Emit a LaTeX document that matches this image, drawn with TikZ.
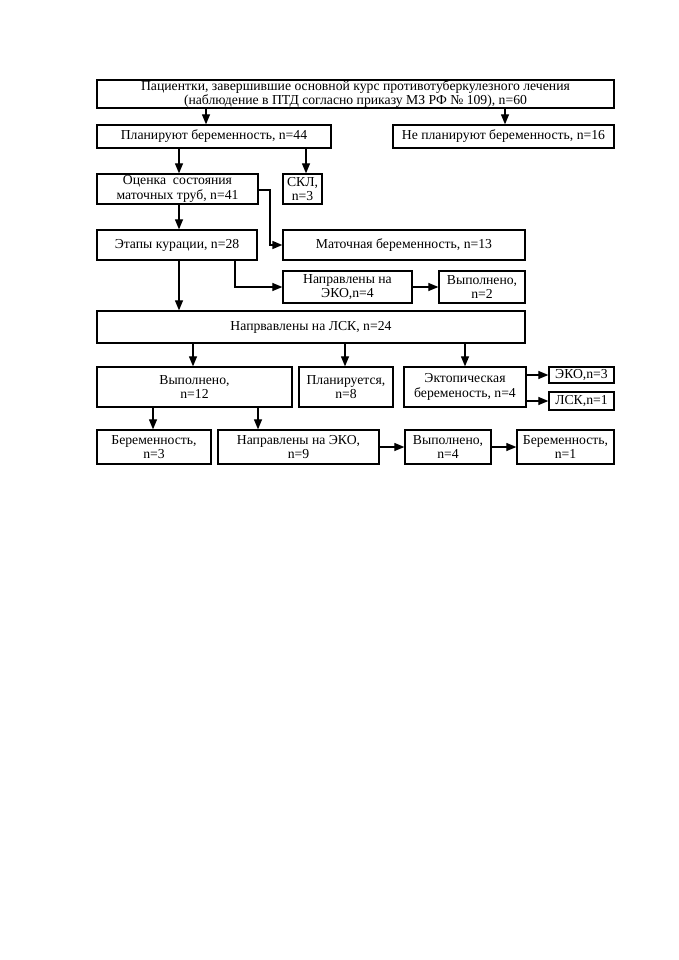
\documentclass[tikz,border=0pt]{standalone}
\usepackage{fontspec}
\setmainfont{Liberation Serif}
\usetikzlibrary{arrows.meta}
\begin{document}
\begin{tikzpicture}[x=1pt,y=-1pt,
  box/.style={draw,line width=1.3pt,inner sep=0pt,align=center,font=\fontsize{13.7}{14.2}\selectfont},
  arr/.style={line width=1.2pt,-{Triangle[length=10pt,width=8pt]}}]
\useasboundingbox (0,0) rectangle (678,960);
\node[box,minimum width=517pt,minimum height=28pt,font=\fontsize{13.7}{13.3}\selectfont] (top) at (355.5,94) {Пациентки, завершившие основной курс противотуберкулезного лечения\\(наблюдение в ПТД согласно приказу МЗ РФ № 109), n=60};
\node[box,minimum width=234pt,minimum height=23pt] (plan) at (214,136.5) {Планируют беременность, n=44};
\node[box,minimum width=221pt,minimum height=23pt] (noplan) at (503.5,136.5) {Не планируют беременность, n=16};
\node[box,minimum width=161pt,minimum height=30pt] (ocenka) at (177.5,189) {Оценка~~состояния\\маточных труб, n=41};
\node[box,minimum width=39pt,minimum height=30pt] (skl) at (302.5,189) {СКЛ,\\n=3};
\node[box,minimum width=160pt,minimum height=30pt] (etapy) at (177,245) {Этапы курации, n=28};
\node[box,minimum width=242pt,minimum height=30pt] (matoch) at (404,245) {Маточная беременность, n=13};
\node[box,minimum width=129pt,minimum height=32pt] (eko4) at (347.5,287) {Направлены на\\ЭКО,n=4};
\node[box,minimum width=86pt,minimum height=32pt] (vyp2) at (482,287) {Выполнено,\\n=2};
\node[box,minimum width=428pt,minimum height=32pt] (lsk) at (311,327) {Напрвавлены на ЛСК, n=24};
\node[box,minimum width=195pt,minimum height=40pt] (vyp12) at (194.5,387) {Выполнено,\\n=12};
\node[box,minimum width=94pt,minimum height=40pt] (planir) at (346,387) {Планируется,\\n=8};
\node[box,minimum width=122pt,minimum height=40pt] (ektop) at (465,387) {Эктопическая\\беременость, n=4};
\node[box,minimum width=65pt,minimum height=16pt] (eko3) at (581.5,375) {ЭКО,n=3};
\node[box,minimum width=65pt,minimum height=18pt] (lsk1) at (581.5,401) {ЛСК,n=1};
\node[box,minimum width=114pt,minimum height=34pt] (ber3) at (154,447) {Беременность,\\n=3};
\node[box,minimum width=161pt,minimum height=34pt] (eko9) at (298.5,447) {Направлены на ЭКО,\\n=9};
\node[box,minimum width=86pt,minimum height=34pt] (vyp4) at (448,447) {Выполнено,\\n=4};
\node[box,minimum width=97pt,minimum height=34pt] (ber1) at (565.5,447) {Беременность,\\n=1};
\coordinate (xa) at (206,0);
\coordinate (xb) at (505,0);
\coordinate (xc) at (179,0);
\coordinate (xd) at (306,0);
\coordinate (xe) at (235,0);
\coordinate (xf) at (193,0);
\coordinate (xg) at (345,0);
\coordinate (xh) at (465,0);
\coordinate (xi) at (153,0);
\coordinate (xj) at (258,0);
\coordinate (xk) at (270,0);
\coordinate (ya) at (0,190);
\draw[arr] (top.south -| xa) -- (plan.north -| xa);
\draw[arr] (top.south -| xb) -- (noplan.north -| xb);
\draw[arr] (plan.south -| xc) -- (ocenka.north -| xc);
\draw[arr] (plan.south -| xd) -- (skl.north -| xd);
\draw[arr] (ocenka.south -| xc) -- (etapy.north -| xc);
\draw[arr,line width=1.4pt] (ocenka.east |- ya) -- (xk |- ya) |- (matoch.west);
\draw[arr] (etapy.south -| xe) |- (eko4.west);
\draw[arr] (eko4.east) -- (vyp2.west);
\draw[arr] (etapy.south -| xc) -- (lsk.north -| xc);
\draw[arr] (lsk.south -| xf) -- (vyp12.north -| xf);
\draw[arr] (lsk.south -| xg) -- (planir.north -| xg);
\draw[arr] (lsk.south -| xh) -- (ektop.north -| xh);
\draw[arr] (ektop.east |- eko3.west) -- (eko3.west);
\draw[arr] (ektop.east |- lsk1.west) -- (lsk1.west);
\draw[arr] (vyp12.south -| xi) -- (ber3.north -| xi);
\draw[arr] (vyp12.south -| xj) -- (eko9.north -| xj);
\draw[arr] (eko9.east) -- (vyp4.west);
\draw[arr] (vyp4.east) -- (ber1.west);
\end{tikzpicture}
\end{document}
